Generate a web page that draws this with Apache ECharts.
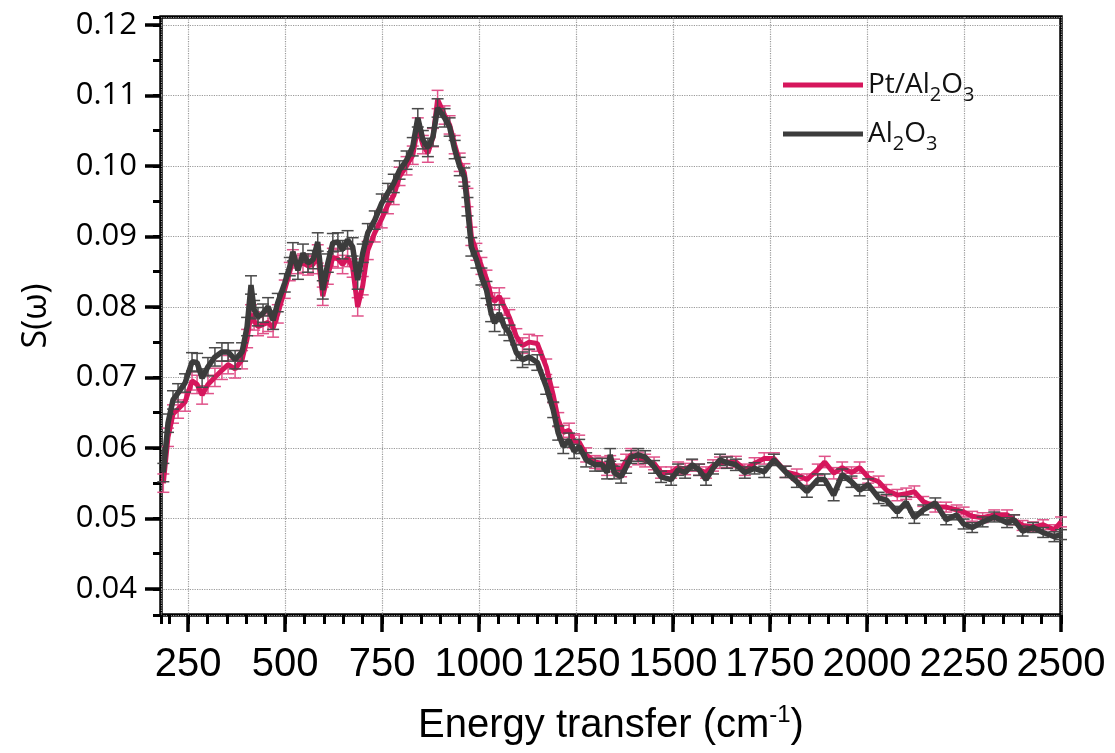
<!DOCTYPE html>
<html>
<head>
<meta charset="utf-8">
<script src="https://cdn.jsdelivr.net/npm/echarts@6/dist/echarts.min.js"></script>
<style>
  html, body { margin: 0; padding: 0; background: #fff; }
  #chart { width: 1115px; height: 753px; }
</style>
</head>
<body>
<div id="chart"></div>
<script>
// energy transfer (cm-1)
const energy = [
  186, 198, 211, 224, 242, 260, 273, 286, 301, 319, 337, 353, 371, 389, 402, 412, 420, 430, 443, 456,
  469, 481, 499, 512, 520, 533, 546, 559, 572, 584, 597, 610, 623, 636, 648, 661, 674, 687, 700, 713,
  731, 749, 765, 780, 795, 813, 829, 842, 855, 868, 881, 893, 911, 924, 937, 950, 962, 970, 980, 993,
  1006, 1019, 1031, 1040, 1052, 1065, 1078, 1096, 1112, 1129, 1150, 1173, 1191, 1204, 1217, 1232, 1245, 1258, 1276, 1299,
  1317, 1330, 1338, 1348, 1366, 1379, 1392, 1410, 1428, 1451, 1469, 1495, 1513, 1531, 1549, 1567, 1585, 1603, 1621, 1639,
  1662, 1685, 1710, 1735, 1760, 1790, 1819, 1845, 1873, 1891, 1914, 1936, 1960, 1981, 2003, 2030, 2050, 2078, 2101, 2122,
  2145, 2176, 2204, 2231, 2249, 2271, 2298, 2328, 2361, 2379, 2401, 2428, 2454, 2483, 2500
];

// S(w) for Pt/Al2O3
const sPt = [
  0.0550, 0.0615, 0.0648, 0.0655, 0.0665, 0.0695, 0.0690, 0.0675, 0.0690, 0.0700, 0.0710, 0.0718, 0.0712, 0.0725, 0.0755, 0.0790, 0.0780, 0.0772, 0.0775, 0.0778,
  0.0770, 0.0790, 0.0825, 0.0850, 0.0868, 0.0860, 0.0862, 0.0858, 0.0860, 0.0875, 0.0815, 0.0845, 0.0870, 0.0868, 0.0860, 0.0870, 0.0855, 0.0800, 0.0830, 0.0880,
  0.0905, 0.0925, 0.0945, 0.0958, 0.0985, 0.1000, 0.1015, 0.1055, 0.1030, 0.1018, 0.1040, 0.1094, 0.1072, 0.1058, 0.1030, 0.1005, 0.0990, 0.0955, 0.0900, 0.0878,
  0.0858, 0.0840, 0.0815, 0.0808, 0.0815, 0.0800, 0.0785, 0.0758, 0.0745, 0.0750, 0.0748, 0.0715, 0.0675, 0.0640, 0.0622, 0.0625, 0.0610, 0.0608, 0.0590, 0.0580,
  0.0578, 0.0570, 0.0580, 0.0575, 0.0568, 0.0582, 0.0590, 0.0585, 0.0582, 0.0578, 0.0565, 0.0565, 0.0572, 0.0570, 0.0575, 0.0569, 0.0565, 0.0575, 0.0579, 0.0580,
  0.0580, 0.0569, 0.0578, 0.0585, 0.0585, 0.0566, 0.0562, 0.0555, 0.0569, 0.0580, 0.0564, 0.0572, 0.0565, 0.0572, 0.0558, 0.0552, 0.0540, 0.0533, 0.0535, 0.0538,
  0.0524, 0.0516, 0.0516, 0.0512, 0.0509, 0.0503, 0.0501, 0.0505, 0.0505, 0.0498, 0.0490, 0.0488, 0.0491, 0.0484, 0.0495
];

// S(w) for Al2O3
const sAl = [
  0.0565, 0.0635, 0.0668, 0.0678, 0.0692, 0.0722, 0.0721, 0.0699, 0.0715, 0.0729, 0.0736, 0.0736, 0.0725, 0.0736, 0.0772, 0.0831, 0.0796, 0.0786, 0.0791, 0.0800,
  0.0781, 0.0806, 0.0834, 0.0857, 0.0878, 0.0852, 0.0876, 0.0862, 0.0867, 0.0892, 0.0824, 0.0862, 0.0891, 0.0892, 0.0881, 0.0895, 0.0885, 0.0838, 0.0876, 0.0905,
  0.0923, 0.0947, 0.0962, 0.0975, 0.0994, 0.1008, 0.1027, 0.1068, 0.1037, 0.1026, 0.1041, 0.1082, 0.1068, 0.1055, 0.1023, 0.0999, 0.0984, 0.0942, 0.0885, 0.0867,
  0.0843, 0.0824, 0.0791, 0.0777, 0.0791, 0.0772, 0.0763, 0.0735, 0.0725, 0.0729, 0.0721, 0.0687, 0.0654, 0.0621, 0.0602, 0.0611, 0.0595, 0.0602, 0.0583, 0.0576,
  0.0576, 0.0565, 0.0590, 0.0565, 0.0559, 0.0573, 0.0587, 0.0590, 0.0587, 0.0573, 0.0559, 0.0555, 0.0569, 0.0565, 0.0576, 0.0569, 0.0555, 0.0571, 0.0583, 0.0579,
  0.0576, 0.0565, 0.0571, 0.0566, 0.0583, 0.0566, 0.0552, 0.0538, 0.0555, 0.0555, 0.0533, 0.0562, 0.0552, 0.0540, 0.0548, 0.0529, 0.0526, 0.0509, 0.0523, 0.0501,
  0.0512, 0.0522, 0.0498, 0.0505, 0.0492, 0.0487, 0.0495, 0.0502, 0.0494, 0.0498, 0.0482, 0.0487, 0.0480, 0.0474, 0.0477
];

// error bar half-heights (same for both samples)
const sErr = [
  0.0013, 0.0013, 0.0013, 0.0013, 0.0013, 0.0013, 0.0013, 0.0013, 0.0013, 0.0013, 0.0013, 0.0013, 0.0013, 0.0013, 0.0013, 0.0013, 0.0013, 0.0013, 0.0013, 0.0013,
  0.0013, 0.0013, 0.0013, 0.0013, 0.0013, 0.0013, 0.0013, 0.0013, 0.0013, 0.0013, 0.0013, 0.0013, 0.0013, 0.0013, 0.0013, 0.0013, 0.0013, 0.0013, 0.0013, 0.0013,
  0.0013, 0.0013, 0.0013, 0.0013, 0.0013, 0.0013, 0.0013, 0.0013, 0.0013, 0.0013, 0.0013, 0.0013, 0.0013, 0.0013, 0.0013, 0.0013, 0.0013, 0.0013, 0.0013, 0.0012,
  0.0012, 0.0012, 0.0012, 0.0012, 0.0012, 0.0012, 0.0011, 0.0011, 0.0011, 0.0011, 0.0011, 0.0011, 0.0011, 0.0010, 0.0010, 0.0010, 0.0010, 0.0010, 0.0010, 0.0009,
  0.0009, 0.0009, 0.0009, 0.0009, 0.0009, 0.0009, 0.0009, 0.0009, 0.0009, 0.0009, 0.0008, 0.0008, 0.0008, 0.0008, 0.0008, 0.0008, 0.0008, 0.0008, 0.0008, 0.0008,
  0.0008, 0.0008, 0.0008, 0.0008, 0.0008, 0.0008, 0.0008, 0.0008, 0.0008, 0.0008, 0.0008, 0.0008, 0.0008, 0.0008, 0.0008, 0.0008, 0.0008, 0.0008, 0.0008, 0.0008,
  0.0007, 0.0007, 0.0007, 0.0007, 0.0007, 0.0007, 0.0007, 0.0007, 0.0007, 0.0007, 0.0007, 0.0007, 0.0007, 0.0007, 0.0007
];

const names = ['Pt/Al2O3', 'Al2O3'];
const legendRich = {
  'Pt/Al2O3': '{a|Pt/Al}{s|2}{a|O}{s|3}',
  'Al2O3': '{a|Al}{s|2}{a|O}{s|3}'
};

const narrow = "'Liberation Sans', Arial, sans-serif";
const sans = "'Open Sans', 'Noto Sans', sans-serif";

function errBars(color) {
  return function (params, api) {
    const x = api.value(0);
    const lo = api.coord([x, api.value(1)]);
    const hi = api.coord([x, api.value(2)]);
    const hw = 6;
    const st = { stroke: color, lineWidth: 1.5 };
    return {
      type: 'group',
      children: [
        { type: 'line', shape: { x1: lo[0], y1: lo[1], x2: hi[0], y2: hi[1] }, style: st },
        { type: 'line', shape: { x1: lo[0] - hw, y1: lo[1], x2: lo[0] + hw, y2: lo[1] }, style: st },
        { type: 'line', shape: { x1: hi[0] - hw, y1: hi[1], x2: hi[0] + hw, y2: hi[1] }, style: st }
      ]
    };
  };
}

const chart = echarts.init(document.getElementById('chart'));

const option = {
  backgroundColor: '#fff',
  animation: false,
  grid: {
    left: 161, right: 54, top: 17, bottom: 138,
    show: true, borderColor: '#000', borderWidth: 3.5
  },
  legend: {
    data: names,
    orient: 'vertical',
    left: 778,
    top: 66,
    itemGap: 15,
    itemWidth: 80,
    itemHeight: 5,
    icon: 'rect',
    formatter: n => legendRich[n],
    textStyle: {
      rich: {
        a: { fontSize: 28, fontFamily: sans, color: '#111', lineHeight: 40 },
        s: { fontSize: 20, fontFamily: sans, color: '#111', lineHeight: 20, verticalAlign: 'bottom' }
      }
    }
  },
  xAxis: [
    {
      type: 'value', min: 180, max: 2500, minInterval: 250, maxInterval: 250, splitNumber: 9,
      axisLine: { show: false },
      axisTick: { show: true, inside: false, length: 17, lineStyle: { color: '#000', width: 3.5 } },
      axisLabel: {
        showMinLabel: false, showMaxLabel: true,
        fontSize: 40, fontFamily: narrow, color: '#000', margin: 30,
        formatter: v => String(v)
      },
      splitLine: { show: true, lineStyle: { color: '#9a9a9a', type: 'dotted', width: 1.2 } },
      name: '{a|Energy transfer (cm}{u|-1}{a|)}',
      nameLocation: 'middle',
      nameGap: 88,
      nameTextStyle: {
        rich: {
          a: { fontSize: 40, fontFamily: narrow, color: '#000', lineHeight: 46 },
          u: { fontSize: 24, fontFamily: narrow, color: '#000', lineHeight: 24, verticalAlign: 'top' }
        }
      }
    },
    {
      type: 'value', min: 180, max: 2500, minInterval: 50, maxInterval: 50, splitNumber: 46,
      position: 'bottom',
      axisLine: { show: false },
      axisTick: { show: true, inside: false, length: 9, lineStyle: { color: '#000', width: 3 } },
      axisLabel: { show: false },
      splitLine: { show: false }
    }
  ],
  yAxis: [
    {
      type: 'value', min: 0.0363, max: 0.1211, minInterval: 0.01, maxInterval: 0.01, splitNumber: 8,
      axisLine: { show: false },
      axisTick: { show: true, inside: false, length: 16, lineStyle: { color: '#000', width: 3.5 } },
      axisLabel: {
        showMinLabel: false, showMaxLabel: false,
        fontSize: 31, fontFamily: sans, color: '#000', margin: 24,
        formatter: v => v.toFixed(2)
      },
      splitLine: { show: true, lineStyle: { color: '#9a9a9a', type: 'dotted', width: 1.2 } },
      name: 'S(ω)',
      nameLocation: 'middle',
      nameGap: 108,
      nameTextStyle: { fontSize: 34, fontFamily: sans, color: '#000' }
    },
    {
      type: 'value', min: 0.0363, max: 0.1211, minInterval: 0.005, maxInterval: 0.005, splitNumber: 17,
      position: 'left',
      axisLine: { show: false },
      axisTick: { show: true, inside: false, length: 8, lineStyle: { color: '#000', width: 3 } },
      axisLabel: { show: false },
      splitLine: { show: false }
    }
  ],
  series: [
    {
      name: 'Pt/Al2O3 err', type: 'custom', xAxisIndex: 0, yAxisIndex: 0,
      renderItem: errBars('#e0538a'),
      encode: { x: 0, y: [1, 2] },
      data: energy.map((e, i) => [e, sPt[i] - sErr[i], sPt[i] + sErr[i]]),
      z: 2
    },
    {
      name: 'Pt/Al2O3', type: 'line', xAxisIndex: 0, yAxisIndex: 0,
      data: energy.map((e, i) => [e, sPt[i]]),
      showSymbol: false, symbol: 'none',
      color: '#d6165c',
      lineStyle: { width: 5, color: '#d6165c' },
      z: 3
    },
    {
      name: 'Al2O3 err', type: 'custom', xAxisIndex: 0, yAxisIndex: 0,
      renderItem: errBars('#4a4a4a'),
      encode: { x: 0, y: [1, 2] },
      data: energy.map((e, i) => [e, sAl[i] - sErr[i], sAl[i] + sErr[i]]),
      z: 4
    },
    {
      name: 'Al2O3', type: 'line', xAxisIndex: 0, yAxisIndex: 0,
      data: energy.map((e, i) => [e, sAl[i]]),
      showSymbol: false, symbol: 'none',
      color: '#3c3c3c',
      lineStyle: { width: 5.5, color: '#3c3c3c' },
      z: 5
    }
  ]
};

chart.setOption(option);
</script>
</body>
</html>
